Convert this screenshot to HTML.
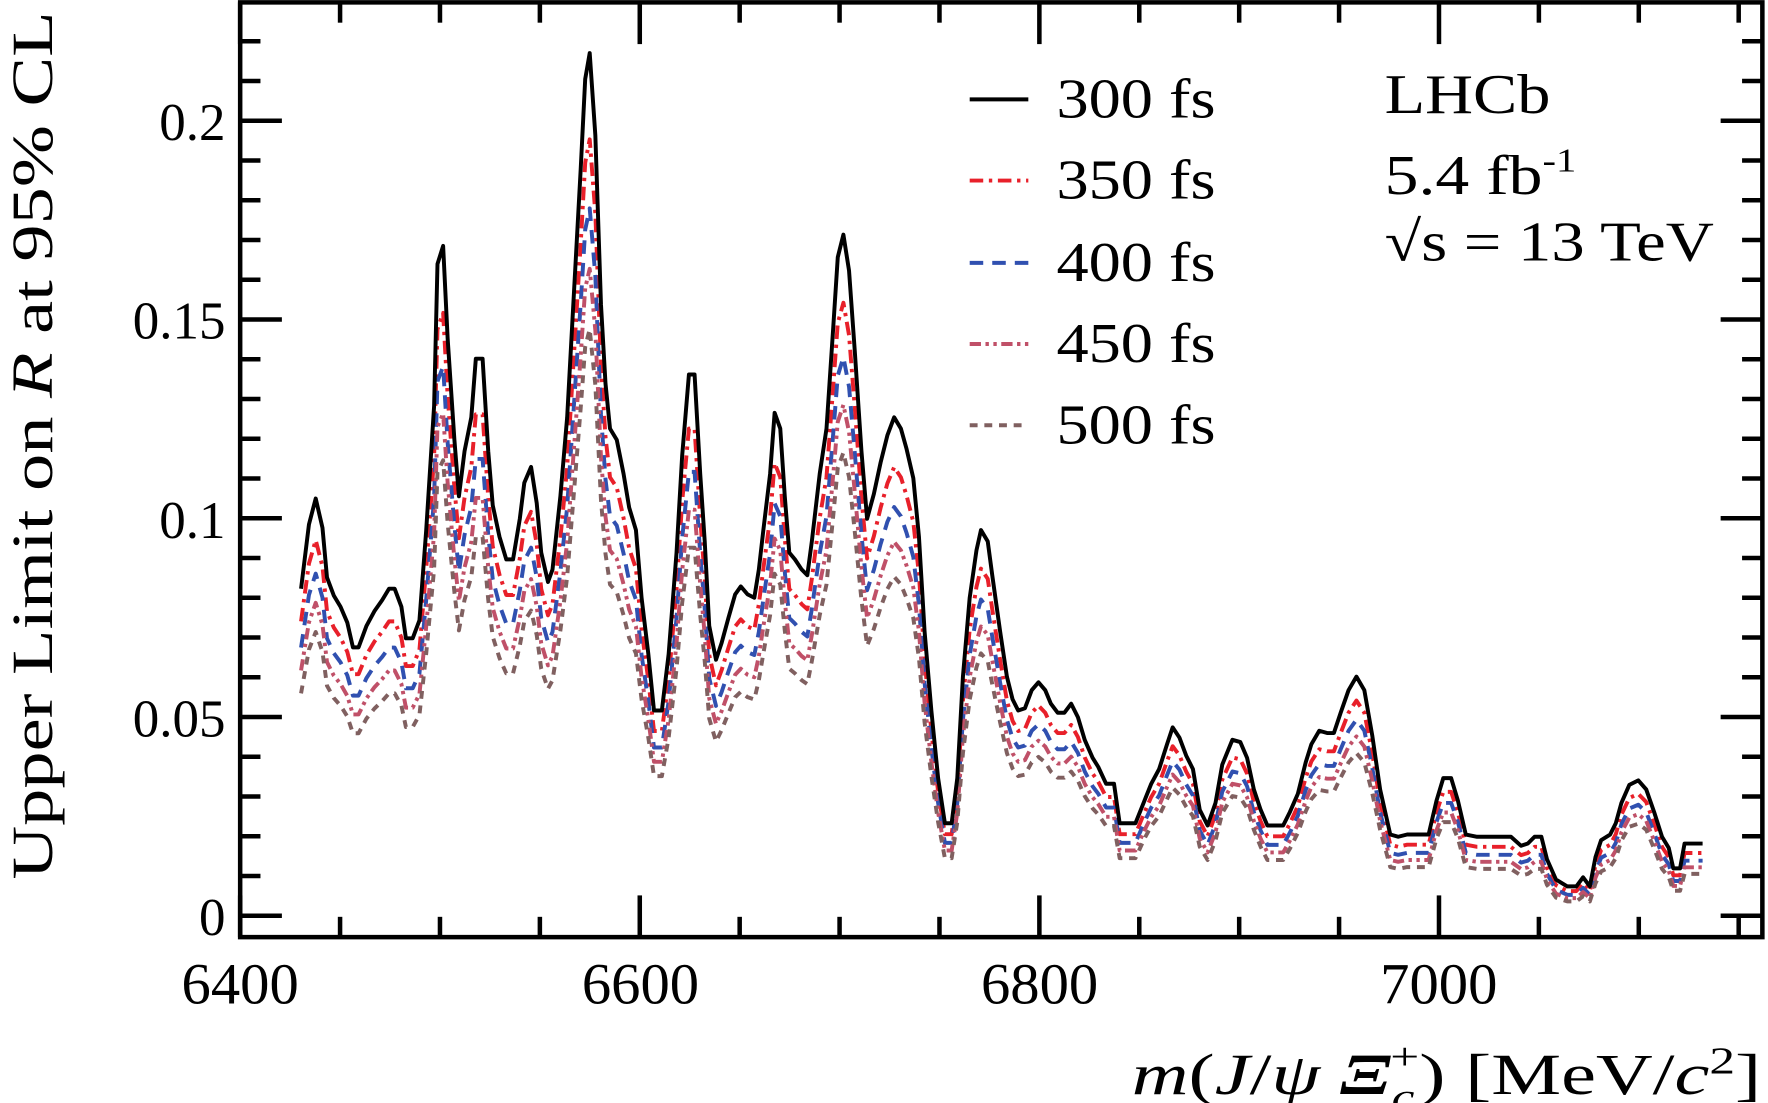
<!DOCTYPE html>
<html><head><meta charset="utf-8"><style>
html,body{margin:0;padding:0;background:#fff;}
svg{display:block;}
text{font-family:"Liberation Serif",serif;fill:#000;}
</style></head><body>
<svg id="s" width="1768" height="1103" viewBox="0 0 1568 978" xmlns="http://www.w3.org/2000/svg">
<g id="curves" fill="none" stroke-linejoin="round"></g>
<g id="axes" stroke="#000" stroke-width="4" fill="none"></g>
<g font-size="47" text-anchor="end">
<text x="200" y="124">0.2</text>
<text x="200" y="300">0.15</text>
<text x="200" y="477">0.1</text>
<text x="200" y="653">0.05</text>
<text x="200" y="829">0</text>
</g>
<g font-size="52" text-anchor="middle">
<text x="213" y="890">6400</text>
<text x="568" y="890">6600</text>
<text x="922" y="890">6800</text>
<text x="1276" y="890">7000</text>
</g>
<g transform="translate(1562,970) scale(1.34,1)">
<text x="0" y="0" font-size="52" text-anchor="end"><tspan font-style="italic">m</tspan>(<tspan font-style="italic">J</tspan>/<tspan font-style="italic">ψ</tspan> <tspan font-style="italic" font-weight="bold">Ξ</tspan><tspan font-size="34" font-style="italic" dy="14">c</tspan><tspan font-size="34" dx="-16" dy="-36">+</tspan><tspan dy="22">) [MeV/</tspan><tspan font-style="italic">c</tspan><tspan font-size="34" dy="-18">2</tspan><tspan dy="18">]</tspan></text>
</g>
<text transform="translate(46,395) rotate(-90)" font-size="52" text-anchor="middle" textLength="770" lengthAdjust="spacingAndGlyphs">Upper Limit on  <tspan font-style="italic">R</tspan> at 95% CL</text>
<g font-size="50">
<text x="937" y="104" textLength="141" lengthAdjust="spacingAndGlyphs">300 fs</text>
<text x="937" y="176" textLength="141" lengthAdjust="spacingAndGlyphs">350 fs</text>
<text x="937" y="249" textLength="141" lengthAdjust="spacingAndGlyphs">400 fs</text>
<text x="937" y="321" textLength="141" lengthAdjust="spacingAndGlyphs">450 fs</text>
<text x="937" y="393" textLength="141" lengthAdjust="spacingAndGlyphs">500 fs</text>
<text x="1228" y="100" textLength="147" lengthAdjust="spacingAndGlyphs">LHCb</text>
<g transform="translate(1228,172) scale(1.2,1)"><text x="0" y="0">5.4 fb<tspan font-size="30" dy="-20">-1</tspan></text></g>
<text x="1228" y="231" textLength="292" lengthAdjust="spacingAndGlyphs">√s = 13 TeV</text>
</g>
<g fill="none">
<line x1="860" y1="88" x2="912" y2="88" stroke="#000" stroke-width="3.5"/>
<line x1="860" y1="160" x2="912" y2="160" stroke="#e8202a" stroke-width="3.5" stroke-dasharray="12,5,3,5"/>
<line x1="860" y1="233" x2="912" y2="233" stroke="#3050b0" stroke-width="3.5" stroke-dasharray="12,8"/>
<line x1="860" y1="305" x2="912" y2="305" stroke="#c05068" stroke-width="3.5" stroke-dasharray="10,4,3,4,3,4"/>
<line x1="860" y1="377" x2="912" y2="377" stroke="#806060" stroke-width="3.5" stroke-dasharray="7,6"/>
</g>
</svg>
<script>
var P=[[267,522],[274,465],[280,442],[286,468],[290,512],[296,528],[302,538],[308,552],[313,574],[318,574],[325,555],[332,542],[339,532],[345,522],[350,522],[356,538],[360,566],[366,566],[372,550],[378,470],[385,360],[388,234],[393,218],[397,300],[403,390],[407,440],[412,400],[418,370],[422,318],[428,318],[433,400],[437,448],[443,476],[449,496],[455,496],[461,460],[465,428],[471,414],[476,446],[480,490],[486,516],[490,505],[497,440],[503,370],[509,260],[515,150],[519,70],[523,47],[528,120],[533,270],[537,340],[541,380],[547,390],[553,420],[558,450],[564,470],[569,530],[575,580],[580,630],[587,630],[593,580],[600,490],[605,404],[611,332],[616,332],[621,420],[625,480],[629,555],[635,585],[640,570],[646,548],[652,527],[657,520],[663,527],[669,530],[673,505],[677,470],[683,420],[687,366],[692,380],[696,440],[700,490],[705,496],[711,505],[716,510],[720,480],[727,420],[733,380],[739,290],[743,228],[748,208],[753,240],[758,310],[764,400],[769,460],[775,438],[781,410],[787,386],[793,370],[799,380],[804,398],[810,424],[815,476],[820,560],[826,630],[832,690],[838,730],[844,730],[849,690],[854,600],[860,530],[866,488],[870,470],[876,480],[880,510],[887,560],[893,600],[898,620],[903,630],[909,628],[915,612],[921,605],[927,612],[932,624],[938,632],[944,632],[950,624],[956,636],[962,656],[969,672],[974,680],[981,695],[988,695],[993,730],[1000,730],[1007,730],[1015,710],[1021,695],[1028,682],[1035,660],[1040,645],[1046,654],[1052,670],[1058,682],[1064,718],[1071,732],[1078,712],[1084,678],[1093,656],[1100,658],[1106,672],[1112,700],[1118,718],[1124,732],[1131,732],[1138,732],[1144,720],[1151,704],[1158,676],[1163,660],[1170,648],[1177,650],[1183,650],[1189,632],[1196,612],[1203,600],[1210,612],[1217,652],[1224,700],[1233,740],[1240,742],[1248,740],[1254,740],[1260,740],[1267,740],[1274,710],[1280,690],[1287,690],[1293,710],[1300,740],[1310,742],[1320,742],[1330,742],[1340,742],[1349,750],[1355,748],[1361,742],[1367,742],[1372,762],[1380,780],[1390,786],[1398,786],[1404,778],[1410,786],[1415,760],[1420,745],[1428,740],[1433,730],[1438,712],[1445,696],[1453,692],[1460,700],[1467,720],[1474,742],[1480,752],[1484,770],[1490,770],[1494,748],[1502,748],[1510,748]];
var Y0=812,S=3525;
var ser=[[0.9,"#e8202a","12,5,3,5"],[0.82,"#3050b0","12,8"],[0.75,"#c05068","10,4,3,4,3,4"],[0.68,"#806060","7,6"],[1,"#000",""]];
var g=document.getElementById('curves'),h='';
ser.forEach(function(s){
 var d=P.map(function(p,i){var v=(Y0-p[1])/S;var f=s[0];if(v<0.03)f=f-(1-f)*0.8*(0.03-v)/0.03;return (i?'L':'M')+p[0]+' '+(Y0-v*f*S).toFixed(1);}).join('');
 h+='<path d="'+d+'" stroke="'+s[1]+'" stroke-width="3.5"'+(s[2]?' stroke-dasharray="'+s[2]+'"':'')+'/>';
});
g.innerHTML=h;
var a='<rect x="213" y="2" width="1350" height="829"/>';
var L=213,R=1563,T=2,B=831;
for(var m=6400;m<=7150;m+=50){var x=213+(m-6400)*1.772;if(x>R)break;var len=(m%200==0)?37:18;a+='<line x1="'+x+'" y1="'+B+'" x2="'+x+'" y2="'+(B-len)+'"/><line x1="'+x+'" y1="'+T+'" x2="'+x+'" y2="'+(T+len)+'"/>';}
for(var k=0;k<=23;k++){var v=k*0.01;var y=Y0-v*S;if(y<T)break;var len=(k%5==0)?37:18;a+='<line x1="'+L+'" y1="'+y+'" x2="'+(L+len)+'" y2="'+y+'"/><line x1="'+R+'" y1="'+y+'" x2="'+(R-len)+'" y2="'+y+'"/>';}
document.getElementById('axes').innerHTML=a;
</script>
</body></html>
